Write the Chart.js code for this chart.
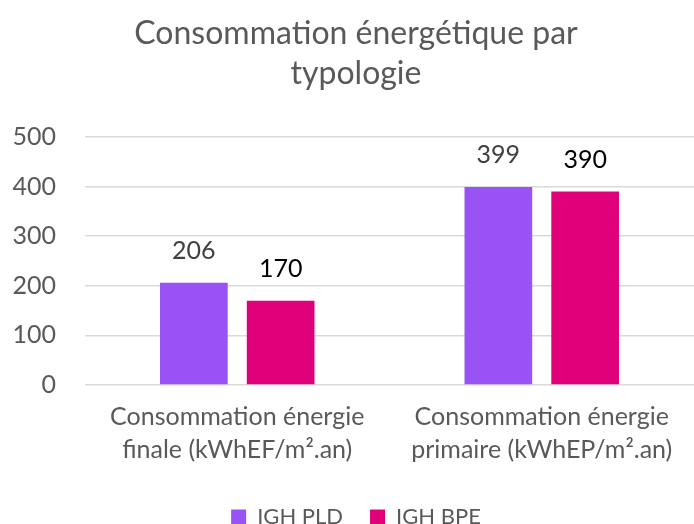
<!DOCTYPE html>
<html>
<head>
<meta charset="utf-8">
<script src="https://cdn.jsdelivr.net/npm/chart.js@4/dist/chart.umd.min.js"></script>
<style>
	html, body { margin: 0; padding: 0; background: #ffffff; }
	#chart { display: block; }
</style>
</head>
<body>
<canvas id="chart" width="694" height="524"></canvas>
<script>
// chart data
const categories = [
	['Consommation énergie', 'finale (kWhEF/m².an)'],
	['Consommation énergie', 'primaire (kWhEP/m².an)'],
];
const seriesNames = ['IGH PLD', 'IGH BPE'];
const pldValues = [206, 399];
const bpeValues = [170, 390];
const yMax = 500;
const yStep = 100;

const FONT = 'Lato, Carlito, "Open Sans", sans-serif';

// draws the value above each bar, same as excel data labels
const valueLabels = {
	id: 'valueLabels',
	afterDatasetsDraw: (chart) => {
		const ctx = chart.ctx;
		ctx.save();
		ctx.font = `25px ${FONT}`;
		ctx.textAlign = 'center';
		ctx.textBaseline = 'middle';
		chart.data.datasets.forEach((ds, i) => {
			let meta = chart.getDatasetMeta(i);
			meta.data.forEach((bar, j) => {
				ctx.fillStyle = ds.labelColor;
				ctx.fillText(ds.data[j], bar.x, bar.y - 32);
			});
		});
		ctx.restore();
	},
};

let chart = new Chart(document.getElementById('chart'), {
	type: 'bar',
	data: {
		labels: categories,
		datasets: [
			{
				label: seriesNames[0],
				data: pldValues,
				backgroundColor: '#9852F5',
				labelColor: '#404040',
				categoryPercentage: 0.57,
				barPercentage: 0.78,
			},
			{
				label: seriesNames[1],
				data: bpeValues,
				backgroundColor: '#E0007A',
				labelColor: '#000000',
				categoryPercentage: 0.57,
				barPercentage: 0.78,
			},
		],
	},
	options: {
		responsive: false,
		animation: false,
		layout: { padding: { left: 12, right: -6, top: 14, bottom: -14 } },
		plugins: {
			title: {
				display: true,
				text: ['Consommation énergétique par', 'typologie'],
				color: '#595959',
				font: { family: FONT, size: 32, weight: 'normal', lineHeight: 1.25 },
				padding: { top: 0, bottom: 43 },
			},
			legend: {
				position: 'bottom',
				labels: {
					color: '#595959',
					font: { family: FONT, size: 22 },
					boxWidth: 15,
					boxHeight: 15,
					padding: 27,
				},
			},
			tooltip: { enabled: false },
		},
		scales: {
			x: {
				grid: { display: false },
				border: { display: false },
				ticks: {
					color: '#595959',
					font: { family: FONT, size: 25, lineHeight: 1.32 },
					padding: 7,
					maxRotation: 0,
				},
				afterFit: (scale) => {
					scale.height += 6; // extra gap before the legend
				},
			},
			y: {
				min: 0,
				max: yMax,
				ticks: {
					stepSize: yStep,
					color: '#595959',
					font: { family: FONT, size: 25 },
					padding: 29,
				},
				grid: { color: '#D9D9D9', lineWidth: 1.5, drawTicks: false },
				border: { display: false },
				afterFit: (scale) => {
					scale.width = 73; // plot starts at x=85 like the excel one
				},
			},
		},
	},
	plugins: [valueLabels],
});
</script>
</body>
</html>
